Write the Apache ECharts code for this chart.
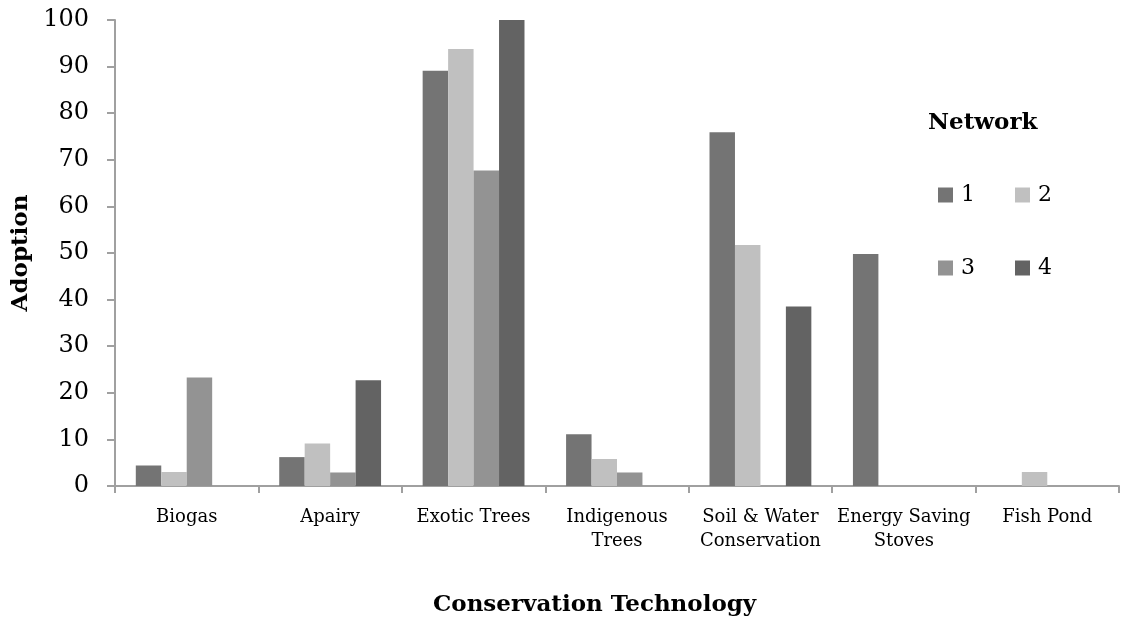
<!DOCTYPE html>
<html>
<head>
<meta charset="utf-8">
<script src="https://cdn.jsdelivr.net/npm/echarts@6/dist/echarts.min.js"></script>
<style>
  html, body { margin: 0; padding: 0; background: #fff; }
  #chart { width: 1131px; height: 624px; }
</style>
</head>
<body>
<div id="chart"></div>
<script>
// Adoption of conservation technologies by network
const categories = ['Biogas', 'Apairy', 'Exotic Trees', 'Indigenous\nTrees',
  'Soil & Water\nConservation', 'Energy Saving\nStoves', 'Fish Pond'];
const network1 = [4.4, 6.2, 89.1, 11.1, 75.9, 49.8, 0];
const network2 = [3.0, 9.1, 93.8, 5.8, 51.7, 0, 3.0];
const network3 = [23.3, 2.9, 67.7, 2.9, 0, 0, 0];
const network4 = [0, 22.7, 100, 0, 38.5, 0, 0];
const seriesNames = ['1', '2', '3', '4'];
const yTicks = { min: 0, max: 100, interval: 10 };

const colors = ['#747474', '#c0c0c0', '#939393', '#636363'];
const fontFamily = "'DejaVu Serif', serif";
const seriesData = [network1, network2, network3, network4];

const legendRow = (names, top) => ({
  data: names,
  left: 938, top: top, orient: 'horizontal', padding: 0,
  itemWidth: 15, itemHeight: 15, itemGap: 40,
  icon: 'rect',
  textStyle: { fontFamily: fontFamily, fontSize: 22, color: '#000', padding: [0, 0, 0, 3] }
});

const chart = echarts.init(document.getElementById('chart'));
chart.setOption({
  animation: false,
  backgroundColor: '#ffffff',
  textStyle: { fontFamily: fontFamily, color: '#000' },
  grid: { left: 115, right: 12, top: 20, bottom: 138, containLabel: false, outerBoundsMode: 'none' },
  legend: [
    legendRow([seriesNames[0], seriesNames[1]], 184),
    legendRow([seriesNames[2], seriesNames[3]], 257)
  ],
  graphic: [
    {
      type: 'text', left: 928, top: 112,
      style: { text: 'Network', font: "bold 23px 'DejaVu Serif', serif", fill: '#000' }
    },
    {
      type: 'text', left: 433, top: 594,
      style: { text: 'Conservation Technology', font: "bold 23px 'DejaVu Serif', serif", fill: '#000' }
    }
  ],
  xAxis: {
    type: 'category',
    data: categories,
    axisLine: { lineStyle: { color: '#a0a0a0', width: 2 } },
    axisTick: { show: true, alignWithLabel: false, length: 7, lineStyle: { color: '#a0a0a0', width: 2 } },
    axisLabel: { color: '#000', fontSize: 18, fontFamily: fontFamily, margin: 19, lineHeight: 24, interval: 0 }
  },
  yAxis: {
    type: 'value',
    min: yTicks.min, max: yTicks.max, interval: yTicks.interval,
    name: 'Adoption',
    nameLocation: 'middle',
    nameGap: 82,
    nameRotate: 90,
    nameTextStyle: { fontFamily: fontFamily, fontWeight: 'bold', fontSize: 23, color: '#000' },
    axisLine: { show: true, lineStyle: { color: '#a0a0a0', width: 2 } },
    axisTick: { show: true, length: 8, lineStyle: { color: '#a0a0a0', width: 2 } },
    axisLabel: { color: '#000', fontSize: 24, fontFamily: fontFamily, margin: 26 },
    splitLine: { show: false }
  },
  series: seriesData.map((d, i) => ({
    name: seriesNames[i],
    type: 'bar',
    data: d,
    barGap: '0%',
    barCategoryGap: '29%',
    itemStyle: { color: colors[i] }
  }))
});
</script>
</body>
</html>
